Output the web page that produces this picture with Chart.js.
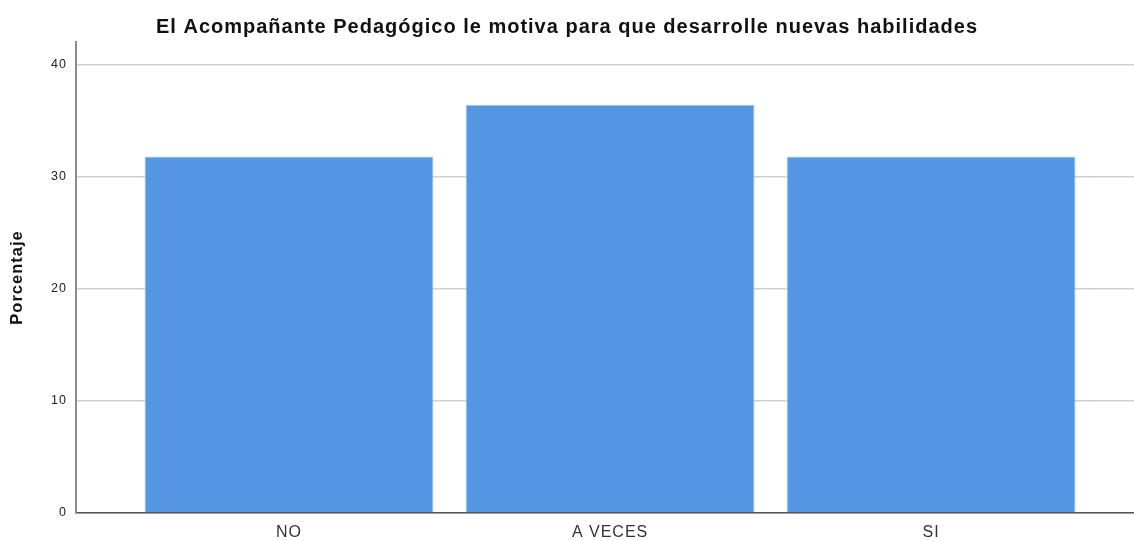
<!DOCTYPE html>
<html>
<head>
<meta charset="utf-8">
<script src="https://cdn.jsdelivr.net/npm/chart.js@4/dist/chart.umd.min.js"></script>
<style>
  html, body { margin: 0; padding: 0; background: #fff; }
  #wrap { width: 1134px; height: 541px; }
</style>
</head>
<body>
<div id="wrap"><canvas id="myChart"></canvas></div>
<script>
const categories = ["NO", "A VECES", "SI"];
const porcentaje = [31.8, 36.4, 31.8];
const yTicks = [0, 10, 20, 30, 40];

const fontFamily = "'Liberation Sans', Arial, sans-serif";

// the reference text looks a little stretched sideways
const spacing = {
  id: 'spacing',
  beforeLayout(chart) { chart.ctx.letterSpacing = "1px"; },
  beforeDraw(chart) { chart.ctx.letterSpacing = "1px"; },
};

// the cut-off heading above the title, only its bottom edge shows
const topCut = {
  id: 'topCut',
  afterDraw(chart) {
    const ctx = chart.ctx;
    ctx.save();
    ctx.font = "bold 20px " + fontFamily;
    ctx.fillStyle = '#777';
    ctx.textAlign = 'center';
    ctx.textBaseline = 'alphabetic';
    ctx.fillText("Gráfico N° 9", 540, -1);
    ctx.restore();
  }
};

const data = {
  datasets: [
    {
      label: "Porcentaje",
      data: categories.map((c, i) => ({ x: i, y: porcentaje[i] })),
      backgroundColor: "#5596e3",
      borderColor: "#a3c6f1",
      borderWidth: 1,
      barPercentage: 0.9,
      categoryPercentage: 1,
    },
  ],
};

const config = {
  type: "bar",
  data: data,
  options: {
    responsive: false,
    animation: false,
    layout: { padding: 0 },
    plugins: {
      legend: { display: false },
      tooltip: { enabled: false },
      title: {
        display: true,
        text: "El Acompañante Pedagógico le motiva para que desarrolle nuevas habilidades",
        color: "#111",
        font: { family: fontFamily, size: 20, weight: "bold" },
        padding: { top: 15, bottom: 3 },
      },
    },
    scales: {
      x: {
        type: "linear",
        offset: false,
        min: -0.6636,
        max: 2.632,
        grid: { display: false, offset: false },
        border: { display: true, color: "#555", width: 1.5 },
        afterBuildTicks: (scale) => {
          scale.ticks = categories.map((c, i) => ({ value: i }));
        },
        afterFit: (scale) => { scale.height = 28; },
        ticks: {
          autoSkip: false,
          maxRotation: 0,
          padding: 2,
          color: "#333",
          font: { family: fontFamily, size: 16 },
          callback: (v) => categories[v],
        },
      },
      y: {
        min: 0,
        max: 42,
        afterBuildTicks: (scale) => {
          scale.ticks = yTicks.map((v) => ({ value: v }));
        },
        afterFit: (scale) => { scale.width = 76; },
        grid: { color: "#d0d0d0", lineWidth: 1.5, drawTicks: false },
        border: { display: true, color: "#8c8c8c", width: 2 },
        ticks: {
          padding: 9,
          color: "#222",
          font: { family: fontFamily, size: 12.5 },
        },
        title: {
          display: true,
          text: "Porcentaje",
          color: "#111",
          font: { family: fontFamily, size: 16.5, weight: "bold" },
          padding: { top: 8, bottom: 0 },
        },
      },
    },
  },
  plugins: [spacing, topCut],
};

window.onload = function () {
  const canvas = document.getElementById("myChart");
  canvas.width = 1134;
  canvas.height = 541;
  new Chart(canvas.getContext("2d"), config);
};
</script>
</body>
</html>
